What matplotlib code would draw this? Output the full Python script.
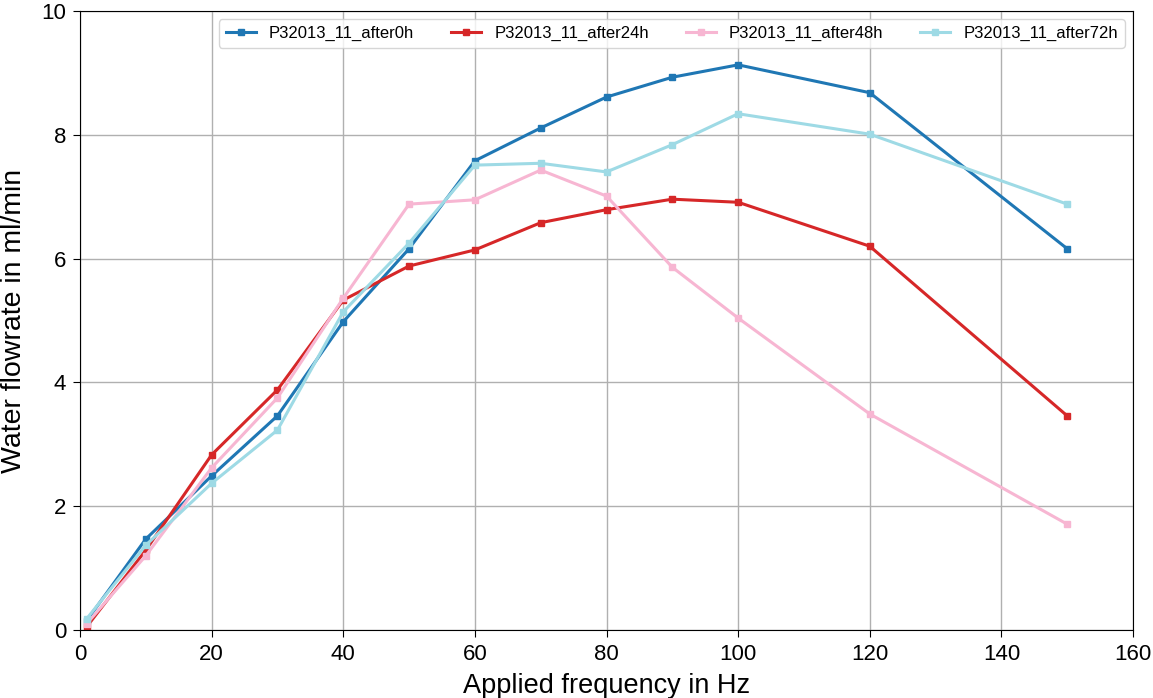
import matplotlib.pyplot as plt

plt.rcParams['font.family'] = ['Liberation Sans', 'DejaVu Sans']

freq = [1, 10, 20, 30, 40, 50, 60, 70, 80, 90, 100, 120, 150]
after0h = [0.15, 1.47, 2.49, 3.46, 4.98, 6.16, 7.58, 8.11, 8.61, 8.93, 9.13, 8.68, 6.16]
after24h = [0.05, 1.29, 2.83, 3.88, 5.33, 5.88, 6.14, 6.58, 6.79, 6.96, 6.91, 6.20, 3.46]
after48h = [0.10, 1.20, 2.62, 3.75, 5.36, 6.88, 6.95, 7.43, 7.01, 5.86, 5.04, 3.49, 1.71]
after72h = [0.18, 1.37, 2.37, 3.23, 5.14, 6.25, 7.51, 7.54, 7.40, 7.84, 8.34, 8.01, 6.88]

series = [
    ("P32013_11_after0h", after0h, "#1f77b4"),
    ("P32013_11_after24h", after24h, "#d62728"),
    ("P32013_11_after48h", after48h, "#f7b6d2"),
    ("P32013_11_after72h", after72h, "#9edae5"),
]

fig = plt.figure(figsize=(11.53, 6.98), dpi=100)
ax = fig.add_axes([80 / 1153, 1 - 630 / 698, 1053 / 1153, 619 / 698])

for label, vals, color in series:
    ax.plot(freq, vals, color=color, lw=2.2, marker="s", markersize=4, label=label)

ax.set_xlim(0, 160)
ax.set_ylim(0, 10)
ax.grid(True, color="#b0b0b0", lw=1)
ax.tick_params(labelsize=16, length=5, pad=5)
ax.set_xlabel("Applied frequency in Hz", fontsize=19.5, labelpad=6)
ax.set_ylabel("Water flowrate in ml/min", fontsize=20.5, labelpad=10)
ax.legend(loc="upper right", ncol=4, fontsize=12, frameon=True, borderaxespad=0.5,
          handlelength=1.8, columnspacing=2.2, borderpad=0.4)

fig.savefig("out.png", dpi=100)
